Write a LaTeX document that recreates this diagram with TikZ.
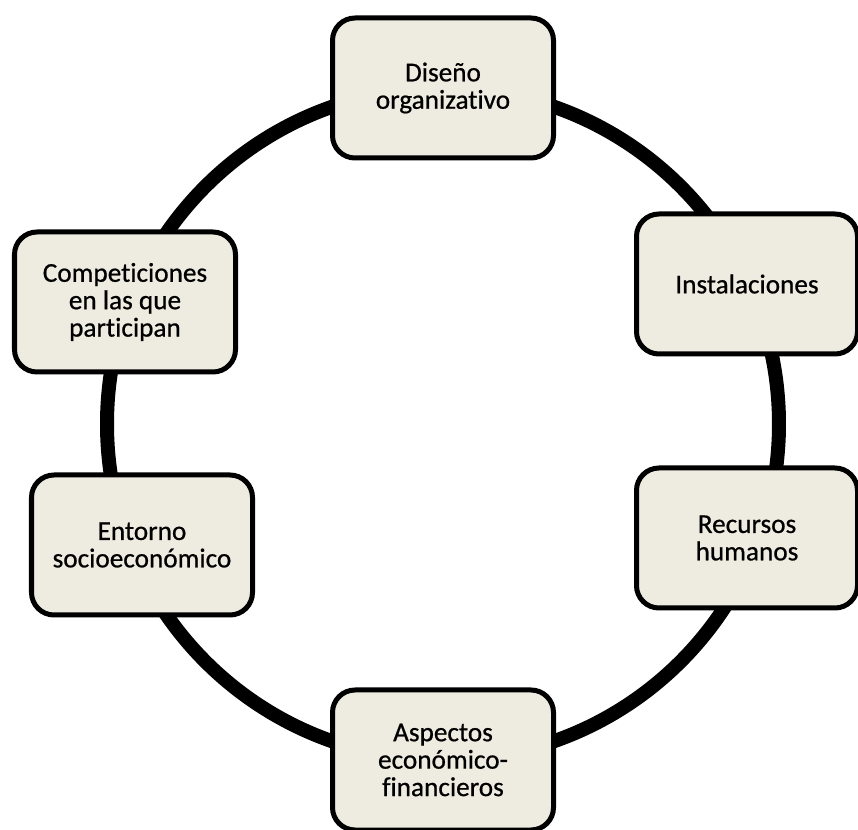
\documentclass[tikz,border=0pt]{standalone}
\usepackage{fontspec}
\setmainfont{Carlito}
\newfontfamily\boxfont[FakeBold=0.7, Ligatures=NoCommon]{Carlito}
\usepackage{tikz}
\usetikzlibrary{positioning,calc}
\definecolor{boxfill}{HTML}{EEECE1}

\begin{document}
\begin{tikzpicture}[
    area/.style={draw, rectangle, rounded corners=0.45cm, line width=0.1cm, fill=boxfill,
                 minimum width=4.42cm, minimum height=2.8cm, align=center,
                 font=\boxfont\fontsize{15.5}{15.6}\selectfont},
    ring/.style={line width=0.28cm}]
    \useasboundingbox (0,0) rectangle (17.16,-16.6);
    
    % Ring
    \coordinate (c) at (8.86,-8.48);
    \draw [ring] (c) circle (6.72);
    
    % Areas
    \node [area] (diseno) at (8.86,-1.76) {Diseño\\organizativo};
    \node [area] (instal) at (14.94,-5.68) {Instalaciones};
    \node [area] (recursos) at (14.94,-10.76) {Recursos\\humanos};
    \node [area] (aspectos) at (8.86,-15.2) {Aspectos\\económico-\\financieros};
    \node [area] (entorno) at (2.84,-10.9) {Entorno\\socioeconómico};
    \node [area] (compet) at (2.5,-6.04) {Competiciones\\en las que\\participan};
    
\end{tikzpicture}
\end{document}
